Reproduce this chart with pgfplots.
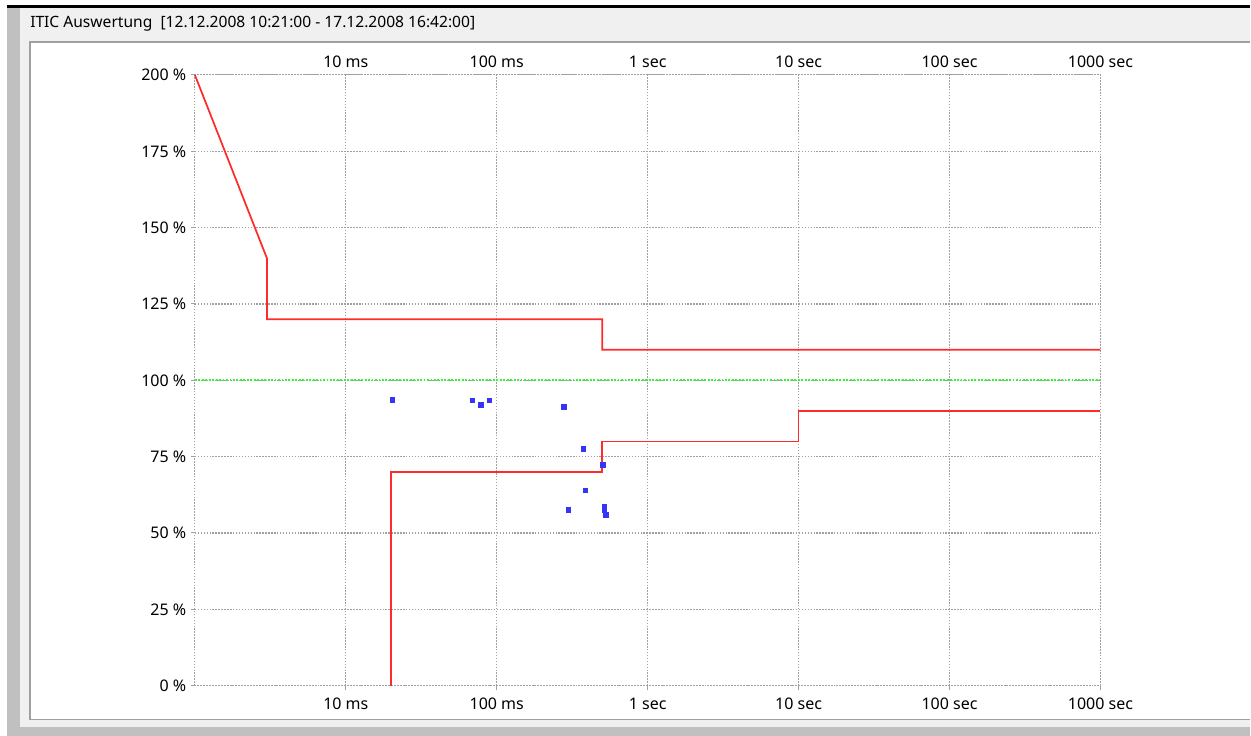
\documentclass[border=0pt]{standalone}
\usepackage{fontspec}
\setmainfont{Noto Sans}
\usepackage{pgfplots}
\pgfplotsset{compat=1.18}

\definecolor{wingray}{HTML}{C0C0C0}
\definecolor{winlight}{HTML}{F0F0F0}
\definecolor{framegray}{HTML}{A0A0A0}
\definecolor{itired}{HTML}{FF2A2A}
\definecolor{itigreen}{HTML}{3AF03A}
\definecolor{itiblue}{HTML}{3535F5}
\definecolor{gridgray}{HTML}{A0A0A0}

\begin{document}
\begin{tikzpicture}
\begin{scope}[x=0.75pt,y=-0.75pt]
\fill[white] (0,0) rectangle (1251,736);
\fill[wingray] (7,8) rectangle (1251,736);
\fill[winlight] (20,8) rectangle (1251,727);
\fill[black] (7,5.5) rectangle (1251,8.5);
\fill[white] (30,42) rectangle (1251,720);
\draw[framegray, line width=1pt] (30,720) -- (30,42) -- (1251,42);
\draw[framegray, line width=1pt] (30,720) -- (1251,720);
\node[anchor=west, inner sep=0pt, font=\fontsize{11.7}{14}\selectfont] at (30,24)
  {ITIC Auswertung\ \ [12.12.2008 10:21:00 - 17.12.2008 16:42:00]};
\end{scope}

\begin{axis}[
  at={(146.25pt,-514.5pt)}, anchor=south west,
  scale only axis, width=679.5pt, height=458.25pt,
  xmode=log, xmin=1e-3, xmax=1e3, ymin=0, ymax=200,
  xminorticks=false,
  xtick={0.01,0.1,1,10,100,1000},
  xticklabels={10 ms,100 ms,1 sec,10 sec,100 sec,1000 sec},
  ytick={0,25,50,75,100,125,150,175,200},
  yticklabels={0 \%,25 \%,50 \%,75 \%,100 \%,125 \%,150 \%,175 \%,200 \%},
  tick pos=left,
  tick align=outside, major tick length=3pt,
  tick style={gridgray, line width=0.75pt},
  grid=major,
  grid style={gridgray, dash pattern=on 1.1pt off 1.1pt, line width=0.8pt},
  axis line style={gridgray, dash pattern=on 1.1pt off 1.1pt, line width=0.8pt},
  ticklabel style={font=\fontsize{12}{14}\selectfont},
  xticklabel style={yshift=-3pt},
  clip=false,
]
\addplot[itired, line width=1.3pt] coordinates {
  (0.001,200) (0.003,140) (0.003,120) (0.5,120) (0.5,110) (1000,110)};
\addplot[itired, line width=1.3pt] coordinates {
  (0.02,0) (0.02,70) (0.5,70) (0.5,80) (10,80) (10,90) (1000,90)};
\addplot[itigreen, line width=1.5pt, dash pattern=on 1.4pt off 1.2pt] coordinates {
  (0.001,100) (1000,100)};
\addplot[only marks, mark=square*, mark size=1.7pt, itiblue, mark options={draw=itiblue, fill=itiblue}] coordinates {
  (0.0203,93.7) (0.069,93.4) (0.0787,92.0) (0.0895,93.4) (0.277,91.3)
  (0.375,77.5) (0.506,72.3) (0.387,64.0) (0.297,57.6) (0.514,58.7)
  (0.514,57.4) (0.527,56.0)};
\end{axis}

\begin{axis}[
  at={(146.25pt,-514.5pt)}, anchor=south west,
  scale only axis, width=679.5pt, height=458.25pt,
  xmode=log, xmin=1e-3, xmax=1e3, ymin=0, ymax=200,
  xminorticks=false,
  xtick={0.01,0.1,1,10,100,1000},
  xticklabels={10 ms,100 ms,1 sec,10 sec,100 sec,1000 sec},
  xticklabel pos=right, xtick pos=right,
  hide y axis,
  axis line style={draw=none},
  major tick length=0pt,
  tick style={draw=none},
  ticklabel style={font=\fontsize{12}{14}\selectfont},
  xticklabel style={yshift=2pt},
]
\end{axis}
\end{tikzpicture}
\end{document}
